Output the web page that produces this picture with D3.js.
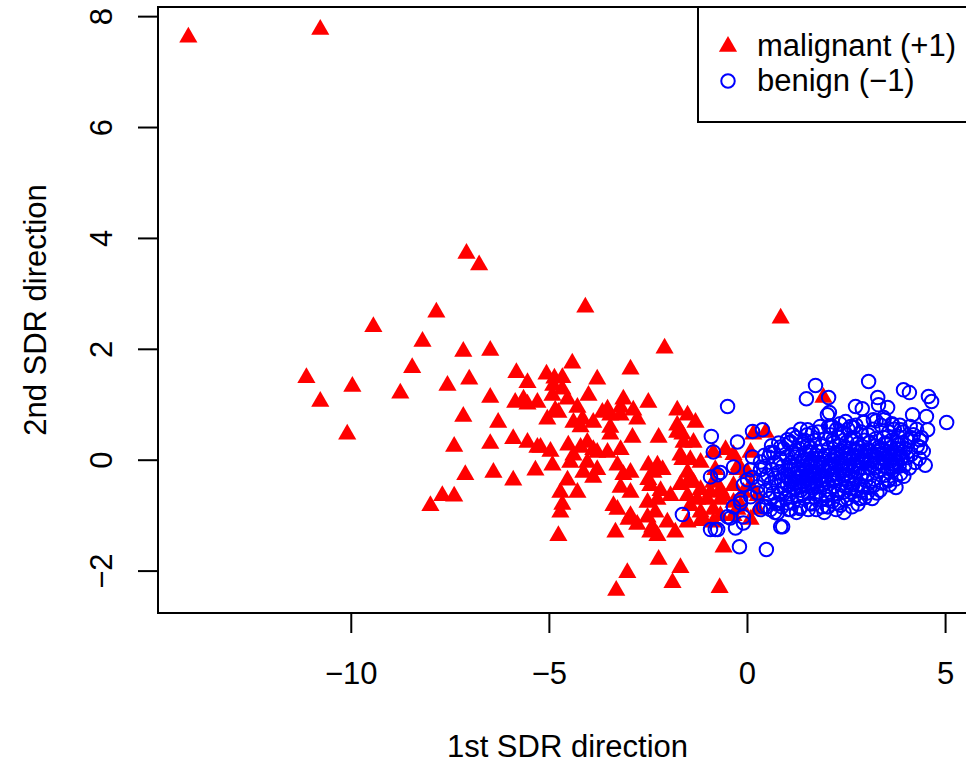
<!DOCTYPE html>
<html>
<head>
<meta charset="utf-8">
<script src="https://cdn.jsdelivr.net/npm/d3@7"></script>
<style>
  body { margin: 0; background: #fff; }
  svg { display: block; font-family: "Liberation Sans", Arial, sans-serif; }
</style>
</head>
<body>
<svg id="chart" width="966" height="763"></svg>
<script>
// malignant (+1) points, [1st SDR, 2nd SDR]
const malignant = [
  [-14.10,7.62],[-10.77,7.76],[-7.08,3.72],[-6.76,3.51],[-4.08,2.75],[0.85,2.55],[-2.08,2.01],[-9.43,2.40],
  [-7.84,2.66],[-8.19,2.13],[-8.45,1.66],[-11.12,1.48],[-9.96,1.32],[-10.77,1.05],[-8.75,1.20],[-10.09,0.46],
  [-7.16,1.95],[-6.48,1.97],[-7.56,1.34],[-7.01,1.45],[-7.16,0.78],[-7.39,0.24],[-7.11,-0.27],[-7.99,-0.83],
  [-7.69,-0.65],[-7.39,-0.66],[-6.48,1.12],[-6.28,0.67],[-6.48,0.29],[-6.40,-0.23],
  [-5.82,1.57],[-5.54,1.39],[-5.85,1.03],[-5.64,1.09],[-5.54,1.00],[-5.29,1.03],[-5.90,0.38],[-5.54,0.31],
  [-5.29,0.22],[-5.34,-0.19],[-5.90,-0.37],
  [-4.41,1.74],[-5.06,1.54],[-4.86,1.47],[-4.66,1.48],[-3.78,1.45],[-2.94,1.63],[-4.89,1.34],[-4.66,1.27],
  [-4.91,1.16],[-4.53,1.09],[-4.00,1.16],[-3.12,1.09],[-2.49,1.03],[-4.28,0.94],[-3.65,0.85],[-3.45,0.80],
  [-3.19,0.94],[-2.87,0.89],[-2.77,0.73],[-1.76,0.89],[-1.50,0.80],[-1.30,0.67],[-5.04,0.73],[-4.76,0.85],
  [-4.38,0.67],[-4.15,0.73],[-3.88,0.67],[-3.45,0.58],[-1.76,0.62],[-1.63,0.46],[-2.89,0.40],[-2.23,0.40],
  [-5.21,0.22],[-4.96,0.15],[-4.20,0.59],[-3.19,0.80],[-3.19,0.18],[-3.52,0.13],[-3.88,0.18],[-4.20,0.22],
  [-4.51,0.26],[-4.38,0.08],[-4.03,-0.05],[-3.78,-0.18],[-4.13,-0.23],[-3.88,-0.32],[-4.91,-0.10],[-4.53,-0.37],
  [-4.71,-0.59],[-4.28,-0.59],[-4.66,-0.81],[-4.71,-0.95],[-4.76,-1.37],
  [-3.27,-0.10],[-3.12,-0.27],[-2.94,-0.23],[-3.19,-0.50],[-2.94,-0.59],[-3.37,-0.83],[-3.27,-0.90],[-2.99,-1.08],
  [-2.77,-1.17],[-3.32,-1.31],[-2.49,-0.10],[-2.36,-0.23],[-2.13,-0.18],[-2.44,-0.47],[-2.18,-0.56],[-2.51,-0.77],
  [-2.31,-0.95],[-2.51,-1.04],[-2.39,-1.22],[-2.26,-1.37],[-2.01,-1.13],[-1.81,-1.31],
  [-1.76,0.49],[-1.60,0.31],[-1.35,0.31],[-1.68,0.08],[-1.43,0.00],[-1.17,-0.05],[-1.50,-0.23],[-1.35,-0.41],
  [-1.68,-0.45],[-1.17,-0.54],[-1.50,-0.65],[-1.25,-0.72],[-1.43,-0.83],[-1.17,-1.10],[-0.85,-0.90],[-0.92,-0.59],
  [-0.85,-0.41],[-0.80,-0.18],
  [-2.23,-1.80],[-3.02,-2.04],[-1.68,-1.95],[-1.88,-2.22],[-3.30,-2.36],[-0.69,-2.31],[-0.59,-1.58],[1.93,1.12],
  [0.16,0.46],[0.47,0.49],[-0.85,0.13],[-0.54,0.18],[-0.34,0.09],[0.09,0.13],[-0.24,-0.18],[0.01,-0.23],
  [-0.67,-0.54],[-0.34,-0.47],[-0.09,-0.59],[0.09,-0.47],[-1.00,-0.72],[-0.67,-0.72],[-0.34,-0.77],[0.27,-0.65],
  [-1.10,-1.08],[-0.85,-1.13],[-0.34,-1.01],[0.09,-1.08],[-0.16,-0.83],[-0.21,-0.10],[-0.59,-0.65],[-0.67,-1.01],
  [-0.24,-0.90],[0.27,-0.90],
  [-4.84,0.89],[-3.52,0.91],[-4.03,0.31],[-3.78,0.13],[-3.45,0.46],[-4.46,-0.05],[-2.49,-0.36],[-2.26,-0.10],
  [-1.63,0.00],[-2.26,-0.72],[-1.93,-0.65],[-1.50,-0.41],[-1.17,-0.95],[-2.94,-1.01],[-2.44,-1.31],[-1.50,-1.13]
];

// benign (-1) points
const benign = [
  // edge of the cloud
  [-0.49,0.96],[1.73,1.34],[1.50,1.10],[2.03,0.81],[2.06,0.60],[0.14,0.51],[0.39,0.54],[-0.90,0.42],
  [-0.24,0.32],[1.53,0.54],[1.02,0.36],[-0.85,0.14],[0.67,0.13],[0.14,0.05],[-0.74,-0.27],[-0.34,-0.13],
  [0.34,-0.18],[-0.09,-0.45],[0.14,-0.32],[0.27,-0.60],[-0.16,-0.78],[-0.42,-1.05],[-0.29,-1.23],[-0.80,-1.26],
  [0.34,-0.90],[0.59,-0.90],[0.77,-0.78],[0.90,-1.21],[-0.19,-1.57],[0.49,-1.62],[1.10,-0.90],[1.35,-0.85],
  [1.60,-0.78],[1.86,-0.72],[2.03,-0.85],[1.35,-0.49],
  [3.07,1.41],[3.95,1.26],[4.10,1.21],[4.58,1.14],[4.66,1.05],[3.30,1.12],[2.74,0.96],[2.91,0.92],
  [3.32,0.99],[3.55,0.94],[4.18,0.81],[4.53,0.78],[5.04,0.67],[2.06,1.12],[2.08,0.85],[2.11,0.60],
  [2.49,0.69],[2.69,0.58],[2.94,0.67],[3.19,0.72],[3.45,0.76],[3.67,0.63],[3.88,0.54],[4.13,0.40],
  [4.36,0.36],[4.56,0.54],[4.38,0.22],[4.05,0.04],[3.80,0.27],[3.67,-0.14],[3.57,-0.36],[3.19,-0.47],
  [2.86,-0.70],[2.31,-0.78],[2.03,-0.72],[2.61,-0.58],[2.94,-0.49],
  [1.10,0.32],[0.85,0.23],[0.59,0.13],[0.34,-0.04],[0.09,-0.18],[-0.67,-0.23],[0.01,-0.36],[0.27,-0.49],
  [0.09,-0.67],[-0.16,-0.72],[-0.34,-0.85],[-0.49,-1.03],[-0.09,-1.03],[0.42,-0.85],[0.77,-0.96],[1.02,-0.78],
  [-0.74,-1.26],[-0.09,-1.14],[0.85,-1.21],[-1.63,-0.99],[-0.92,-0.31],[-0.92,-1.26],
  // dense core, 0.4 < x < 1
  [0.42,-0.35],[0.45,-0.12],[0.48,-0.55],[0.52,-0.28],[0.55,0.05],[0.58,-0.70],[0.61,-0.42],[0.63,-0.18],
  [0.66,-0.60],[0.68,0.12],[0.71,-0.33],[0.73,-0.05],[0.76,-0.80],[0.78,-0.48],[0.80,-0.22],[0.83,0.02],
  [0.85,-0.62],[0.87,-0.38],[0.90,-0.12],[0.92,0.20],[0.94,-0.52],[0.96,-0.28],[0.98,-0.70],[1.00,0.05],
  [0.50,-0.85],[0.70,-0.95],[0.88,-0.85],[0.62,0.25],[0.44,0.08],[0.80,0.30],
  // 1 < x < 2
  [1.02,-0.45],[1.04,-0.20],[1.06,0.30],[1.08,-0.62],[1.10,-0.05],[1.12,-0.35],[1.14,0.12],[1.16,-0.78],
  [1.18,-0.50],[1.20,-0.25],[1.22,0.05],[1.24,0.40],[1.26,-0.65],[1.28,-0.40],[1.30,-0.15],[1.32,0.20],
  [1.34,-0.88],[1.36,-0.55],[1.38,-0.30],[1.40,-0.02],[1.42,0.28],[1.44,-0.70],[1.46,-0.45],[1.48,-0.18],
  [1.50,0.10],[1.52,0.45],[1.54,-0.60],[1.56,-0.35],[1.58,-0.08],[1.60,0.22],[1.62,-0.80],[1.64,-0.50],
  [1.66,-0.25],[1.68,0.02],[1.70,0.35],[1.72,-0.68],[1.74,-0.40],[1.76,-0.12],[1.78,0.15],[1.80,0.50],
  [1.82,-0.58],[1.84,-0.30],[1.86,-0.05],[1.88,0.25],[1.90,-0.85],[1.92,-0.45],[1.94,-0.20],[1.96,0.08],
  [1.98,0.38],[2.00,-0.65],
  [1.05,-0.90],[1.15,0.45],[1.25,-0.95],[1.35,0.55],[1.45,0.35],[1.55,-0.90],[1.65,0.48],[1.75,-0.90],
  [1.85,0.60],[1.95,-0.95],[1.11,-0.12],[1.21,-0.52],[1.31,-0.32],[1.41,-0.62],[1.51,-0.28],[1.61,-0.05],
  [1.71,-0.22],[1.81,-0.15],[1.91,-0.10],[1.27,0.10],[1.37,0.05],[1.47,0.00],[1.57,0.15],[1.67,-0.42],
  [1.77,-0.48],[1.87,-0.38],[1.97,-0.30],[1.33,-0.48],[1.53,-0.48],[1.73,0.08],
  // 2 < x < 3
  [2.02,-0.40],[2.04,-0.10],[2.06,0.20],[2.08,-0.58],[2.10,0.45],[2.12,-0.28],[2.14,0.00],[2.16,-0.75],
  [2.18,0.30],[2.20,-0.48],[2.22,-0.18],[2.24,0.12],[2.26,0.55],[2.28,-0.62],[2.30,-0.32],[2.32,-0.05],
  [2.34,0.25],[2.36,-0.82],[2.38,-0.45],[2.40,-0.15],[2.42,0.15],[2.44,0.48],[2.46,-0.58],[2.48,-0.28],
  [2.50,0.02],[2.52,0.32],[2.54,-0.70],[2.56,-0.40],[2.58,-0.10],[2.60,0.20],[2.62,0.60],[2.64,-0.52],
  [2.66,-0.22],[2.68,0.08],[2.70,0.40],[2.72,-0.65],[2.74,-0.35],[2.76,-0.02],[2.78,0.28],[2.80,-0.80],
  [2.82,-0.45],[2.84,-0.15],[2.86,0.15],[2.88,0.50],[2.90,-0.55],[2.92,-0.25],[2.94,0.05],[2.96,0.35],
  [2.98,-0.68],[3.00,-0.38],
  [2.05,-0.85],[2.15,0.60],[2.25,-0.90],[2.35,0.65],[2.45,-0.95],[2.55,0.55],[2.65,-0.85],[2.75,0.62],
  [2.85,-0.70],[2.95,0.68],[2.11,-0.15],[2.21,0.05],[2.31,-0.55],[2.41,-0.30],[2.51,-0.50],[2.61,-0.30],
  [2.71,-0.12],[2.81,0.05],[2.91,-0.05],[2.17,-0.38],[2.27,-0.25],[2.37,0.05],[2.47,0.22],[2.57,0.10],
  [2.67,-0.45],[2.77,-0.55],[2.87,-0.30],[2.97,0.15],[2.33,0.40],[2.63,0.38],
  // 3 < x < 4
  [3.02,0.00],[3.05,-0.25],[3.08,0.30],[3.10,-0.50],[3.12,0.15],[3.15,-0.10],[3.18,0.55],[3.20,-0.35],
  [3.22,0.05],[3.25,0.38],[3.28,-0.60],[3.30,-0.20],[3.32,0.22],[3.35,-0.05],[3.38,0.62],[3.40,-0.42],
  [3.42,0.10],[3.45,0.40],[3.48,-0.28],[3.50,0.02],[3.52,0.28],[3.55,-0.15],[3.58,0.50],[3.60,-0.45],
  [3.62,0.12],[3.65,0.35],[3.68,-0.20],[3.70,0.05],[3.72,0.55],[3.75,-0.35],[3.78,0.20],[3.80,-0.05],
  [3.82,0.42],[3.85,0.10],[3.88,-0.25],[3.90,0.30],[3.92,0.05],[3.95,0.50],[3.98,-0.10],[4.00,0.20],
  [3.06,0.45],[3.16,-0.70],[3.26,0.70],[3.36,-0.55],[3.46,0.72],[3.56,-0.38],[3.66,0.65],[3.76,-0.50],
  [3.86,0.62],[3.96,-0.30],[3.14,0.00],[3.34,0.10],[3.54,0.15],[3.74,-0.08],[3.94,0.15],[3.24,-0.15],
  [3.44,-0.12],[3.64,-0.02],[3.84,-0.12],[3.04,-0.60],
  // x > 4
  [4.05,0.35],[4.10,-0.15],[4.15,0.10],[4.20,0.45],[4.25,-0.05],[4.30,0.25],[4.35,0.02],[4.40,0.40],
  [4.45,0.15],[4.50,-0.10],[4.12,0.60],[4.28,0.55],
  // heaviest part of the cloud
  [1.03,-0.30],[1.09,-0.18],[1.13,-0.40],[1.19,-0.10],[1.23,-0.32],[1.29,-0.22],[1.39,-0.40],[1.43,-0.12],
  [1.49,-0.35],[1.59,-0.22],[1.63,-0.02],[1.69,-0.30],[1.79,-0.05],[1.83,-0.22],[1.89,-0.30],[1.93,0.02],
  [2.03,-0.22],[2.09,0.08],[2.13,-0.12],[2.19,-0.02],[2.23,-0.35],[2.29,0.10],[2.39,-0.05],[2.43,-0.20],
  [2.49,0.12],[2.53,-0.15],[2.59,0.02],[2.69,-0.08],[2.73,0.15],[2.79,-0.20],[2.83,0.22],[2.89,-0.02],
  [2.99,0.08],[3.03,0.18],[3.09,-0.15],[3.19,0.08],[3.23,0.25],[3.29,-0.05],[3.39,0.20],[3.43,0.02],
  [3.49,0.30],[3.59,0.08],[3.63,0.22],[3.69,-0.08],[3.79,0.12],[3.83,0.28],[3.89,0.02],[1.53,0.25],
  [1.73,-0.62],[2.17,0.35]
];

const xTicks = [-10, -5, 0, 5];
const yTicks = [-2, 0, 2, 4, 6, 8];
const legendLabels = ['malignant (+1)', 'benign (\u22121)'];
const xTitle = '1st SDR direction';
const yTitle = '2nd SDR direction';

const fontSize = 31;
const plot = { left: 158, right: 977, top: 7, bottom: 613 };

// R style axis range: data extent widened by 4% on each side
function padExtent(ext) {
  const p = (ext[1] - ext[0]) * 0.04;
  return [ext[0] - p, ext[1] + p];
}

const allPts = malignant.concat(benign);
const x = d3.scaleLinear()
  .domain(padExtent(d3.extent(allPts, d => d[0])))
  .range([plot.left, plot.right]);
const y = d3.scaleLinear()
  .domain(padExtent(d3.extent(allPts, d => d[1])))
  .range([plot.bottom, plot.top]);

const svg = d3.select('#chart');
svg.append('rect').attr('width', 966).attr('height', 763).attr('fill', '#fff');

const triangle = d3.symbol().type(d3.symbolTriangle).size(143);

// points
svg.append('g')
  .selectAll('path')
  .data(malignant)
  .join('path')
  .attr('d', triangle)
  .attr('transform', d => `translate(${x(d[0])},${y(d[1])})`)
  .attr('fill', '#ff0000');

svg.append('g')
  .selectAll('circle')
  .data(benign)
  .join('circle')
  .attr('cx', d => x(d[0]))
  .attr('cy', d => y(d[1]))
  .attr('r', 6.75)
  .attr('fill', 'none')
  .attr('stroke', '#0000ff')
  .attr('stroke-width', 2);

// axes
const xAxis = svg.append('g')
  .attr('transform', `translate(0,${plot.bottom})`)
  .attr('font-family', null)
  .call(d3.axisBottom(x).tickValues(xTicks).tickSize(20).tickSizeOuter(0));
xAxis.select('.domain').remove();
xAxis.selectAll('line').attr('stroke', '#000').attr('stroke-width', 2);
xAxis.selectAll('text')
  .attr('y', 71).attr('dy', null)
  .attr('font-size', fontSize).attr('fill', '#000');

const yAxis = svg.append('g')
  .attr('transform', `translate(${plot.left},0)`)
  .call(d3.axisLeft(y).tickValues(yTicks).tickSize(20).tickSizeOuter(0));
yAxis.select('.domain').remove();
yAxis.selectAll('line').attr('stroke', '#000').attr('stroke-width', 2);
yAxis.selectAll('text')
  .attr('x', null).attr('dy', null)
  .attr('text-anchor', 'middle')
  .attr('transform', 'translate(-46,0) rotate(-90)')
  .attr('font-size', fontSize).attr('fill', '#000');
xAxis.attr('font-family', null);
yAxis.attr('font-family', null);

// plot box
svg.append('rect')
  .attr('x', plot.left).attr('y', plot.top)
  .attr('width', plot.right - plot.left).attr('height', plot.bottom - plot.top)
  .attr('fill', 'none').attr('stroke', '#000').attr('stroke-width', 2);

// axis titles
svg.append('text')
  .attr('x', (plot.left + plot.right) / 2).attr('y', 757)
  .attr('text-anchor', 'middle').attr('font-size', fontSize)
  .text(xTitle);

svg.append('text')
  .attr('transform', `translate(46,${(plot.top + plot.bottom) / 2}) rotate(-90)`)
  .attr('text-anchor', 'middle').attr('font-size', fontSize)
  .text(yTitle);

// legend, top right corner of the plot
const legend = svg.append('g');
legend.append('rect')
  .attr('x', 698).attr('y', plot.top)
  .attr('width', plot.right - 698).attr('height', 122 - plot.top)
  .attr('fill', '#fff').attr('stroke', '#000').attr('stroke-width', 2);
legend.append('path')
  .attr('d', triangle)
  .attr('transform', 'translate(728,46.5)')
  .attr('fill', '#ff0000');
legend.append('circle')
  .attr('cx', 728).attr('cy', 81).attr('r', 6.75)
  .attr('fill', 'none').attr('stroke', '#0000ff').attr('stroke-width', 2);
legend.selectAll('text.lab')
  .data(legendLabels)
  .join('text')
  .attr('class', 'lab')
  .attr('x', 757)
  .attr('y', (d, i) => i === 0 ? 56 : 91)
  .attr('font-size', fontSize)
  .text(d => d);
</script>
</body>
</html>
